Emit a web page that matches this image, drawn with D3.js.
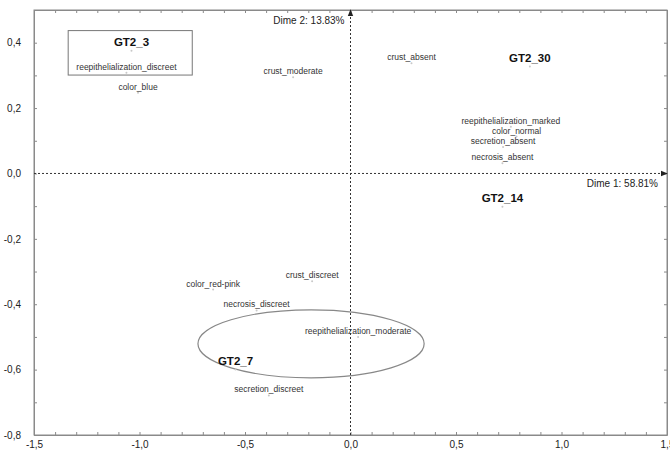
<!DOCTYPE html>
<html>
<head>
<meta charset="utf-8">
<script src="https://cdn.jsdelivr.net/npm/d3@7"></script>
<style>
  html, body { margin: 0; padding: 0; background: #fff; }
  svg { display: block; }
</style>
</head>
<body>
<svg id="chart" width="670" height="454"></svg>
<script>
// ---- data ----
const pointNames = [
  "GT2_3", "reepithelialization_discreet", "color_blue", "crust_moderate",
  "crust_absent", "GT2_30", "reepithelialization_marked", "color_normal",
  "secretion_absent", "necrosis_absent", "GT2_14", "color_red-pink",
  "crust_discreet", "necrosis_discreet", "reepithelialization_moderate",
  "GT2_7", "secretion_discreet"
];
const dim1Values = [
  -1.038, -1.062, -1.007, -0.272,
   0.289,  0.850,  0.760,  0.787,
   0.723,  0.720,  0.720, -0.651,
  -0.182, -0.445,  0.036,
  -0.545, -0.387
];
const dim2Values = [
   0.375,  0.308,  0.247,  0.294,
   0.337,  0.327,  0.143,  0.113,
   0.081,  0.031, -0.102, -0.355,
  -0.330, -0.419, -0.500,
  -0.600, -0.679
];
const groupNames = ["GT2_3", "GT2_30", "GT2_14", "GT2_7"];

const xDomain = [-1.5, 1.5];
const yDomain = [-0.8, 0.5];
const xMajorTicks = [-1.5, -1.0, -0.5, 0.0, 0.5, 1.0, 1.5];
const xTickLabels = ["-1,5", "-1,0", "-0,5", "0,0", "0,5", "1,0", "1,5"];
const yMajorTicks = [-0.8, -0.6, -0.4, -0.2, 0.0, 0.2, 0.4];
const yTickLabels = ["-0,8", "-0,6", "-0,4", "-0,2", "0,0", "0,2", "0,4"];
const xMinorTicks = [-1.5,-1.4,-1.3,-1.2,-1.1,-1.0,-0.9,-0.8,-0.7,-0.6,-0.5,-0.4,-0.3,-0.2,-0.1,0,0.1,0.2,0.3,0.4,0.5,0.6,0.7,0.8,0.9,1.0,1.1,1.2,1.3,1.4,1.5];
const yMinorTicks = [-0.8,-0.7,-0.6,-0.5,-0.4,-0.3,-0.2,-0.1,0,0.1,0.2,0.3,0.4,0.5];

const dim1Title = "Dime 1: 58.81%";
const dim2Title = "Dime 2: 13.83%";

// highlighted group: box (x0, y0, x1, y1) and ellipse (cx, cy, rx, ry)
const boxCorners = [-1.338, 0.437, -0.750, 0.301];
const ellipseParams = [-0.187, -0.521, 0.536, 0.104];

// ---- drawing ----
const svg = d3.select("#chart");
const plotLeft = 34, plotRight = 667, plotTop = 10, plotBottom = 435;
const x = d3.scaleLinear().domain(xDomain).range([plotLeft, plotRight]);
const y = d3.scaleLinear().domain(yDomain).range([plotBottom, plotTop]);

const fontFam = "'Liberation Sans', Arial, sans-serif";
const axisColor = "#8a8a8a";

// frame
svg.append("rect")
  .attr("x", plotLeft).attr("y", plotTop)
  .attr("width", plotRight - plotLeft).attr("height", plotBottom - plotTop)
  .attr("fill", "none").attr("stroke", axisColor).attr("stroke-width", 1);

function styleAxis(g) {
  g.select(".domain").attr("stroke", axisColor);
  g.selectAll(".tick line").attr("stroke", axisColor);
  g.selectAll("text").attr("font-family", fontFam).attr("font-size", "10px").attr("fill", "#222");
}
function majorLabel(ticks, labels) {
  return d => { const i = ticks.findIndex(v => Math.abs(v - d) < 1e-9); return i >= 0 ? labels[i] : ""; };
}

// bottom
const gB = svg.append("g").attr("transform", `translate(0,${plotBottom})`)
  .call(d3.axisBottom(x).tickValues(xMinorTicks).tickSizeInner(-3).tickSizeOuter(0)
    .tickFormat(majorLabel(xMajorTicks, xTickLabels)))
  .call(styleAxis);
gB.selectAll("text").attr("y", 6);
// top
svg.append("g").attr("transform", `translate(0,${plotTop})`)
  .call(d3.axisTop(x).tickValues(xMinorTicks).tickSizeInner(-3).tickSizeOuter(0).tickFormat(""))
  .call(styleAxis);
// left
const gL = svg.append("g").attr("transform", `translate(${plotLeft},0)`)
  .call(d3.axisLeft(y).tickValues(yMinorTicks).tickSizeInner(-3).tickSizeOuter(0)
    .tickFormat(majorLabel(yMajorTicks, yTickLabels)))
  .call(styleAxis);
gL.selectAll("text").attr("x", -13);
// right
svg.append("g").attr("transform", `translate(${plotRight},0)`)
  .call(d3.axisRight(y).tickValues(yMinorTicks).tickSizeInner(-3).tickSizeOuter(0).tickFormat(""))
  .call(styleAxis);

// arrowhead marker
svg.append("defs").append("marker")
  .attr("id", "arrow").attr("viewBox", "0 0 10 10")
  .attr("refX", 9).attr("refY", 5)
  .attr("markerWidth", 7).attr("markerHeight", 7)
  .attr("markerUnits", "userSpaceOnUse")
  .attr("orient", "auto")
  .append("path").attr("d", "M0,1 L10,5 L0,9 Z").attr("fill", "#222");

// zero lines
svg.append("line")
  .attr("x1", x(xDomain[0])).attr("x2", x(xDomain[1]))
  .attr("y1", y(0)).attr("y2", y(0))
  .attr("stroke", "#333").attr("stroke-width", 1).attr("stroke-dasharray", "2,2")
  .attr("marker-end", "url(#arrow)");
svg.append("line")
  .attr("x1", x(0)).attr("x2", x(0))
  .attr("y1", y(yDomain[0])).attr("y2", y(yDomain[1]))
  .attr("stroke", "#333").attr("stroke-width", 1).attr("stroke-dasharray", "2,2")
  .attr("marker-end", "url(#arrow)");

// axis titles
svg.append("text").text(dim1Title)
  .attr("x", x(xDomain[1]) - 9).attr("y", y(0) + 14)
  .attr("text-anchor", "end")
  .attr("font-family", fontFam).attr("font-size", "10px").attr("fill", "#222");
svg.append("text").text(dim2Title)
  .attr("x", x(0) - 6).attr("y", y(yDomain[1]) + 14)
  .attr("text-anchor", "end")
  .attr("font-family", fontFam).attr("font-size", "10px").attr("fill", "#222");

// box around group
svg.append("rect")
  .attr("x", x(boxCorners[0])).attr("y", y(boxCorners[1]))
  .attr("width", x(boxCorners[2]) - x(boxCorners[0]))
  .attr("height", y(boxCorners[3]) - y(boxCorners[1]))
  .attr("fill", "none").attr("stroke", "#777").attr("stroke-width", 1);

// ellipse
svg.append("ellipse")
  .attr("cx", x(ellipseParams[0])).attr("cy", y(ellipseParams[1]))
  .attr("rx", x(ellipseParams[2]) - x(0)).attr("ry", y(0) - y(ellipseParams[3]))
  .attr("fill", "none").attr("stroke", "#888").attr("stroke-width", 1.2);

// points
const pts = pointNames.map((n, i) => ({ name: n, d1: dim1Values[i], d2: dim2Values[i], group: groupNames.includes(n) }));

svg.append("g").selectAll("circle").data(pts).join("circle")
  .attr("cx", d => x(d.d1)).attr("cy", d => y(d.d2))
  .attr("r", 1).attr("fill", "#c8c8c8");

svg.append("g").selectAll("text").data(pts).join("text")
  .text(d => d.name)
  .attr("x", d => x(d.d1))
  .attr("y", d => y(d.d2) - (d.group ? 5 : 3))
  .attr("text-anchor", "middle")
  .attr("font-family", fontFam)
  .attr("font-size", d => d.group ? "11.5px" : "8.5px")
  .attr("font-weight", d => d.group ? "bold" : "normal")
  .attr("fill", d => d.group ? "#111" : "#333");
</script>
</body>
</html>
